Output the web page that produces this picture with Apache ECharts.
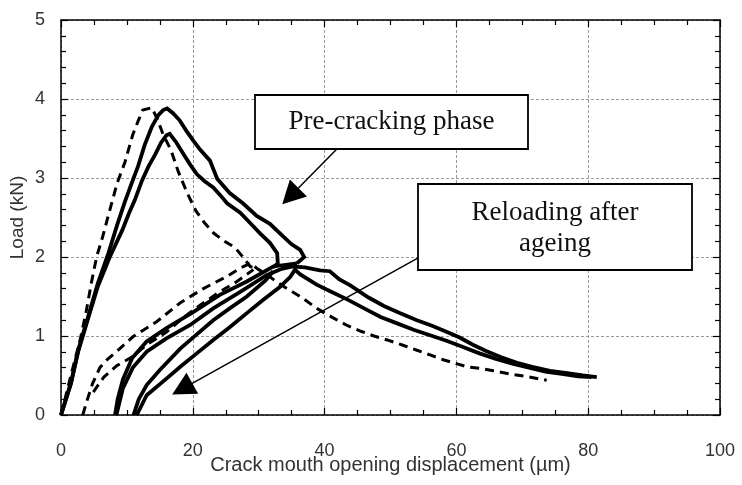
<!DOCTYPE html>
<html>
<head>
<meta charset="utf-8">
<script src="https://cdn.jsdelivr.net/npm/echarts@6/dist/echarts.min.js"></script>
<style>
html,body{margin:0;padding:0;background:#fff;}
#chart{width:742px;height:485px;}
</style>
</head>
<body>
<div id="chart"></div>
<script>
// Axis settings
var xTicks = [0, 20, 40, 60, 80, 100];
var yTicks = [0, 1, 2, 3, 4, 5];
var xTitle = 'Crack mouth opening displacement (\u00b5m)';
var yTitle = 'Load (kN)';
var note1 = 'Pre-cracking phase';
var note2 = 'Reloading after\nageing';

// Pre-cracking phase curves [CMOD, load]
var dashPre = [[0,0],[1.5,0.5],[2.9,0.95],[3.8,1.3],[4.6,1.67],[5.4,2.0],[6.3,2.25],[7.1,2.5],[8.5,2.93],[9.7,3.2],[10.9,3.55],[11.7,3.72],[12.4,3.86],[13.8,3.89],[14.6,3.75],[15.5,3.55],[16.7,3.35],[17.8,3.08],[19.2,2.8],[20.5,2.58],[21.8,2.43],[23.2,2.3],[24.8,2.2],[26.4,2.12],[27.6,2.0],[28.7,1.88],[29.8,1.85]];
var solidPreA = [[0,0],[1.5,0.4],[2.6,0.82],[4.1,1.24],[5.6,1.67],[7.2,2.05],[8.5,2.4],[9.7,2.7],[10.8,2.95],[11.7,3.15],[12.7,3.42],[13.8,3.65],[14.8,3.8],[15.5,3.86],[16.1,3.88],[17,3.82],[18,3.73],[19,3.6],[20.1,3.47],[21.1,3.36],[22.6,3.22],[23.7,2.99],[25.6,2.81],[27.6,2.68],[29.7,2.52],[31.7,2.42],[33.7,2.26],[35,2.16],[36.3,2.09],[36.9,2.0],[35.8,1.92]];
var solidPreB = [[0,0],[1.5,0.4],[2.6,0.8],[4.1,1.22],[5.6,1.63],[7.4,2.0],[9.3,2.34],[10.3,2.55],[11.2,2.72],[12.3,2.97],[13.3,3.15],[14.3,3.3],[15.2,3.45],[16.0,3.54],[16.5,3.56],[17.5,3.45],[18.6,3.3],[19.6,3.17],[20.6,3.05],[21.8,2.96],[23.1,2.88],[24.2,2.78],[25.2,2.68],[27.2,2.56],[28.7,2.43],[30.2,2.3],[31.7,2.18],[32.8,2.05],[32.9,1.92],[32.2,1.87]];

// Unloading / reloading after ageing curves
var dashUnload = [[4.9,0.29],[6.5,0.48],[8.4,0.62],[10.9,0.74],[13,0.89],[16,1.05],[18.5,1.23],[21.1,1.39],[24.1,1.56],[26.7,1.69],[29.2,1.84]];
var dashReload = [[3.3,0],[3.9,0.17],[4.8,0.4],[5.9,0.6],[7,0.7],[8.4,0.8],[10.9,0.99],[14.5,1.18],[18.1,1.42],[21.6,1.6],[25.1,1.75],[27.2,1.86],[28.8,1.92],[29.8,1.85],[31.2,1.78],[32.8,1.68],[34.3,1.6],[36.5,1.49],[38.8,1.35],[41.3,1.23],[43.5,1.13],[45.5,1.06],[47.5,1.0],[49.5,0.95],[52,0.88],[54,0.82],[56,0.76],[58,0.7],[60,0.65],[61.6,0.61],[63.5,0.59],[65.6,0.56],[68,0.52],[70.5,0.49],[73.7,0.44]];
var solidUnloadA = [[35.8,1.92],[32.2,1.88],[28.2,1.69],[24.1,1.52],[20,1.3],[16,1.1],[13,0.93],[10.8,0.72],[9.4,0.45],[8.6,0.2],[8.2,0]];
var solidReloadA = [[8.4,0],[9.4,0.34],[10.9,0.6],[13,0.8],[16,0.97],[19.6,1.14],[23.1,1.35],[27.2,1.56],[31.2,1.77],[33.5,1.85],[35.2,1.88],[37,1.87],[39.3,1.83],[40.8,1.82],[42.2,1.72],[43.9,1.64],[46.6,1.49],[49,1.38],[51.4,1.29],[54,1.2],[56.3,1.13],[58.3,1.06],[60.5,0.98],[62.5,0.89],[64.5,0.81],[66.8,0.73],[69.2,0.66],[71.5,0.61],[74.2,0.56],[76.8,0.53],[79.2,0.5],[81.3,0.48]];
var solidUnloadB = [[32.2,1.82],[31,1.7],[28.2,1.5],[25.6,1.35],[23.1,1.2],[20.6,1.02],[18.1,0.84],[15,0.57],[13,0.38],[11.8,0.2],[11.0,0]];
var solidReloadB = [[11.5,0],[13,0.25],[16,0.46],[18.1,0.61],[20.6,0.78],[23.1,0.95],[25.6,1.11],[28.2,1.29],[30.7,1.46],[33.2,1.62],[34.8,1.75],[35.5,1.84],[36.3,1.78],[38.8,1.65],[41,1.56],[43.5,1.46],[46,1.35],[48.5,1.24],[51,1.16],[53.5,1.08],[56,1.01],[58.5,0.94],[61,0.86],[63.5,0.78],[66,0.71],[68.5,0.65],[71,0.6],[73.5,0.55],[76,0.52],[78.5,0.49],[80.5,0.48]];

// Annotation arrows in data coordinates [start, arrow head]
var arrowPre = [[41.9,3.37],[34.8,2.77]];
var arrowReload = [[54.2,1.99],[18.4,0.33]];

var chart = echarts.init(document.getElementById('chart'), null, {renderer:'canvas'});

function curve(data, dashed) {
  return {
    type:'line', data:data, symbol:'none', smooth:false, silent:true,
    animation:false, z:3,
    lineStyle:{color:'#000', width: dashed ? 3 : 3.8, type: dashed ? [9,6] : 'solid', cap:'butt', join:'miter'}
  };
}

var gridLine = {show:true, lineStyle:{color:'#9a9a9a', width:1, type:[3,2]}};
var labelFont = {fontFamily:'Liberation Sans', fontSize:18, color:'#333'};

var option = {
  backgroundColor:'#fff',
  animation:false,
  grid:{left:61, right:22, top:20, bottom:70, containLabel:false, outerBoundsMode:'none'},
  xAxis:[{
    type:'value', min:xTicks[0], max:xTicks[xTicks.length-1], interval:20,
    name:xTitle, nameLocation:'middle', nameGap:40, nameMoveOverlap:false,
    nameTextStyle:{fontFamily:'Liberation Sans', fontSize:20, color:'#333', verticalAlign:'top'},
    axisLine:{show:true, onZero:false, lineStyle:{color:'#000', width:1.5}},
    axisTick:{show:true, inside:true, length:7, lineStyle:{color:'#000', width:1.2}},
    minorTick:{show:true, splitNumber:4, length:5, lineStyle:{color:'#000', width:1.2}},
    axisLabel:Object.assign({margin:27}, labelFont),
    splitLine:gridLine
  },{
    type:'value', position:'top', min:xTicks[0], max:xTicks[xTicks.length-1], interval:20,
    axisLine:{show:true, onZero:false, lineStyle:{color:'#000', width:1.5}},
    axisTick:{show:true, inside:true, length:7, lineStyle:{color:'#000', width:1.2}},
    minorTick:{show:true, splitNumber:4, length:5, lineStyle:{color:'#000', width:1.2}},
    axisLabel:{show:false}, splitLine:{show:false}
  }],
  yAxis:[{
    type:'value', min:yTicks[0], max:yTicks[yTicks.length-1], interval:1,
    name:yTitle, nameLocation:'middle', nameGap:34, nameRotate:90, nameMoveOverlap:false,
    nameTextStyle:{fontFamily:'Liberation Sans', fontSize:19, color:'#333'},
    axisLine:{show:true, onZero:false, lineStyle:{color:'#000', width:1.5}},
    axisTick:{show:true, inside:true, length:7, lineStyle:{color:'#000', width:1.2}},
    minorTick:{show:true, splitNumber:5, length:5, lineStyle:{color:'#000', width:1.2}},
    axisLabel:Object.assign({margin:16}, labelFont),
    splitLine:gridLine
  },{
    type:'value', position:'right', min:yTicks[0], max:yTicks[yTicks.length-1], interval:1,
    axisLine:{show:true, onZero:false, lineStyle:{color:'#000', width:1.5}},
    axisTick:{show:true, inside:true, length:7, lineStyle:{color:'#000', width:1.2}},
    minorTick:{show:true, splitNumber:5, length:5, lineStyle:{color:'#000', width:1.2}},
    axisLabel:{show:false}, splitLine:{show:false}
  }],
  series:[
    curve(dashPre, true),
    curve(solidPreA, false),
    curve(solidPreB, false),
    curve(dashUnload, true),
    curve(dashReload, true),
    curve(solidUnloadA, false),
    curve(solidReloadA, false),
    curve(solidUnloadB, false),
    curve(solidReloadB, false),
    {
      type:'line', data:[], symbol:'none', silent:true, z:5,
      markLine:{
        silent:true, animation:false,
        symbol:['none','triangle'], symbolSize:[24,23],
        label:{show:false},
        lineStyle:{color:'#000', width:1.5, type:'solid'},
        itemStyle:{color:'#000'},
        emphasis:{disabled:true},
        data:[
          [{coord:arrowPre[0]},{coord:arrowPre[1]}],
          [{coord:arrowReload[0]},{coord:arrowReload[1]}]
        ]
      }
    }
  ],
  graphic:[
    {type:'rect', z:10, shape:{x:255, y:95, width:273, height:54},
     style:{fill:'#fff', stroke:'#000', lineWidth:1.8}},
    {type:'text', z:11, x:391.5, y:122,
     style:{text:note1, fontFamily:'Liberation Serif', fontSize:27, fill:'#111', align:'center', verticalAlign:'middle'}},
    {type:'rect', z:10, shape:{x:418, y:184, width:274, height:86},
     style:{fill:'#fff', stroke:'#000', lineWidth:1.8}},
    {type:'text', z:11, x:555, y:228,
     style:{text:note2, fontFamily:'Liberation Serif', fontSize:27, lineHeight:31, fill:'#111', align:'center', verticalAlign:'middle'}}
  ]
};
chart.setOption(option);
</script>
</body>
</html>
